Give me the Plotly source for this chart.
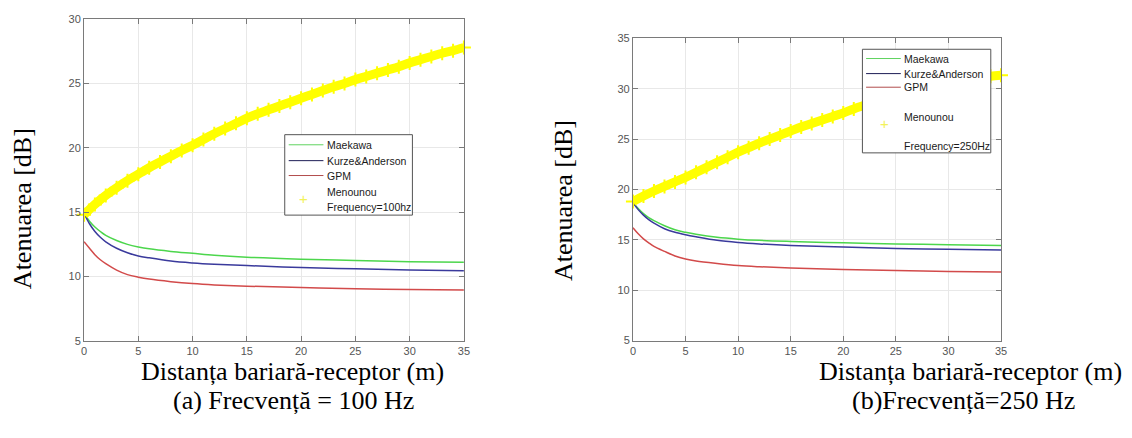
import plotly.graph_objects as go

# ---------------- data ----------------
x_model = [0, 0.5, 1, 1.5, 2, 3, 4, 5, 6, 8, 10, 12, 15, 20, 25, 30, 35]

maekawa_100 = [14.9, 14.3, 13.85, 13.5, 13.2, 12.8, 12.5, 12.3, 12.15, 11.95, 11.8, 11.65, 11.5, 11.35, 11.25, 11.15, 11.1]
kurze_100 = [14.9, 14.1, 13.5, 13.05, 12.7, 12.2, 11.85, 11.6, 11.45, 11.2, 11.05, 10.95, 10.85, 10.7, 10.6, 10.5, 10.45]
gpm_100 = [12.7, 12.2, 11.7, 11.3, 11.0, 10.5, 10.15, 9.95, 9.8, 9.6, 9.45, 9.35, 9.25, 9.15, 9.05, 9.0, 8.95]

maekawa_250 = [18.7, 18.1, 17.6, 17.2, 16.9, 16.4, 16.0, 15.75, 15.55, 15.25, 15.07, 14.95, 14.84, 14.7, 14.6, 14.52, 14.45]
kurze_250 = [18.7, 18.0, 17.45, 17.0, 16.65, 16.1, 15.75, 15.5, 15.3, 14.95, 14.74, 14.6, 14.45, 14.3, 14.15, 14.07, 14.0]
gpm_250 = [16.2, 15.6, 15.1, 14.7, 14.35, 13.85, 13.4, 13.1, 12.9, 12.65, 12.45, 12.33, 12.2, 12.05, 11.95, 11.87, 11.8]

x_men = list(range(0, 36))
menounou_100 = [14.8, 15.6, 16.3, 16.9, 17.45, 17.95, 18.45, 18.9, 19.35, 19.8,
                20.2, 20.65, 21.1, 21.5, 21.9, 22.3, 22.65, 22.95, 23.25, 23.55,
                23.85, 24.15, 24.45, 24.75, 25.0, 25.3, 25.55, 25.8, 26.05, 26.3,
                26.6, 26.85, 27.1, 27.35, 27.55, 27.8]
menounou_250 = [18.8, 19.35, 19.85, 20.3, 20.75, 21.2, 21.7, 22.2, 22.7, 23.2,
                23.7, 24.15, 24.6, 25.0, 25.4, 25.8, 26.2, 26.55, 26.9, 27.25,
                27.6, 28.0, 28.35, 28.7, 29.0, 29.3, 29.6, 29.85, 30.1, 30.35,
                30.55, 30.75, 30.95, 31.1, 31.25, 31.35]

x_ticks = [0, 5, 10, 15, 20, 25, 30, 35]
y_ticks_100 = [5, 10, 15, 20, 25, 30]
y_ticks_250 = [5, 10, 15, 20, 25, 30, 35]

names = ["Maekawa", "Kurze&Anderson", "GPM"]
men_lines_100 = ["Menounou", "Frequency=100hz"]
men_lines_250 = ["Menounou", "Frequency=250Hz"]

# ---------------- style ----------------
W, H = 1132, 438
GREEN = "#4cd64c"
BLUE = "#3a3a9c"
RED = "#d24a4a"
LEG_COLORS = ["#5fd35f", "#1c1c55", "#b24d4d"]
YELLOW = "#ffff00"
AXC = "#7a7a7a"
GRID = "#e8e8e8"
SANS = "Liberation Sans, Arial, sans-serif"
TICKF = dict(family=SANS, size=11, color="#555555")
LEGF = dict(family=SANS, size=10.5, color="#1a1a1a")
SERIF = "Liberation Serif, Times New Roman, serif"

fig = go.Figure()


def add_panel(xa, ya, curves, men):
    for name, vals, col in zip(names, curves, [GREEN, BLUE, RED]):
        fig.add_trace(go.Scatter(x=x_model, y=vals, mode="lines", name=name,
                                 line=dict(color=col, width=1.5, shape="spline"),
                                 xaxis=xa, yaxis=ya, showlegend=False))
    fig.add_trace(go.Scatter(x=x_men, y=men, mode="lines", showlegend=False,
                             line=dict(color=YELLOW, width=9, shape="spline"),
                             xaxis=xa, yaxis=ya, hoverinfo="skip"))
    fig.add_trace(go.Scatter(x=x_men, y=men, mode="markers", name="Menounou",
                             marker=dict(symbol="cross-thin", size=10, color=YELLOW,
                                         line=dict(color=YELLOW, width=2)),
                             cliponaxis=False, xaxis=xa, yaxis=ya, showlegend=False))


add_panel("x", "y", [maekawa_100, kurze_100, gpm_100], menounou_100)
add_panel("x2", "y2", [maekawa_250, kurze_250, gpm_250], menounou_250)

axis_common = dict(showline=True, linecolor=AXC, linewidth=1, mirror="ticks",
                   ticks="inside", ticklen=5, tickcolor=AXC, showgrid=True,
                   gridcolor=GRID, gridwidth=1, zeroline=False, tickfont=TICKF)

L_x0, L_x1, L_top, L_bot = 81.7, 464.6, 13.5, 344.3
R_x0, R_x1, R_top, R_bot = 635.0, 1006.0, 33.3, 344.0

fig.update_layout(
    width=W, height=H,
    margin=dict(l=0, r=0, t=0, b=0),
    paper_bgcolor="white", plot_bgcolor="white",
    showlegend=False,
    xaxis=dict(domain=[L_x0 / W, L_x1 / W], range=[0, 35], tickvals=x_ticks,
               anchor="y", **axis_common),
    yaxis=dict(domain=[1 - L_bot / H, 1 - L_top / H], range=[5, 30], tickvals=y_ticks_100,
               anchor="x", **axis_common),
    xaxis2=dict(domain=[R_x0 / W, R_x1 / W], range=[0, 35], tickvals=x_ticks,
                anchor="y2", **axis_common),
    yaxis2=dict(domain=[1 - R_bot / H, 1 - R_top / H], range=[5, 35], tickvals=y_ticks_250,
                anchor="x2", **axis_common),
)


def px(xp):
    return xp / W


def py(yp):
    return 1 - yp / H


# ---------------- legend boxes (drawn in page pixels) ----------------
def draw_legend(box, line_x, text_x, line_ys, men_ys, plus_xy):
    x0, y0, x1, y1 = box
    fig.add_shape(type="rect", xref="paper", yref="paper",
                  x0=px(x0), x1=px(x1), y0=py(y0), y1=py(y1),
                  line=dict(color="#555555", width=1), fillcolor="white", layer="above")
    for name, col, yy in zip(names, LEG_COLORS, line_ys):
        fig.add_shape(type="line", xref="paper", yref="paper",
                      x0=px(line_x[0]), x1=px(line_x[1]), y0=py(yy), y1=py(yy),
                      line=dict(color=col, width=1), layer="above")
        fig.add_annotation(text=name, x=px(text_x), y=py(yy), xref="paper", yref="paper",
                           xanchor="left", yanchor="middle", showarrow=False, font=LEGF)
    for txt, yy in men_ys:
        fig.add_annotation(text=txt, x=px(text_x), y=py(yy), xref="paper", yref="paper",
                           xanchor="left", yanchor="middle", showarrow=False, font=LEGF)
    fig.add_annotation(text="+", x=px(plus_xy[0]), y=py(plus_xy[1]), xref="paper", yref="paper",
                       xanchor="center", yanchor="middle", showarrow=False,
                       font=dict(family=SANS, size=15, color="#f2f25a"))


draw_legend((284, 132.3, 412.7, 215), (288, 323), 324.3, (142.7, 159, 174.3),
            list(zip(men_lines_100, (191.7, 206.7))), (303.3, 198))
draw_legend((866.3, 44.5, 995.7, 151), (870, 905), 906.7, (54, 69.5, 83.5),
            list(zip(men_lines_250, (114, 143.5))), (888.3, 121))

# ---------------- axis titles ----------------
cap_font = dict(family=SERIF, size=26, color="black")
ylab_font = dict(family=SERIF, size=26, color="black")
titles = [
    dict(text="Atenuarea [dB]", x=px(19), y=py(208), textangle=-90, font=ylab_font),
    dict(text="Atenuarea [dB]", x=px(565), y=py(200), textangle=-90, font=ylab_font),
    dict(text="Distanța bariară-receptor (m)", x=px(292), y=py(376), font=cap_font),
    dict(text="(a) Frecvență = 100 Hz", x=px(293), y=py(406), font=cap_font),
    dict(text="Distanța bariară-receptor (m)", x=px(975), y=py(376), font=cap_font),
    dict(text="(b)Frecvență=250 Hz", x=px(968), y=py(406), font=cap_font),
]
for t in titles:
    fig.add_annotation(xref="paper", yref="paper", showarrow=False,
                       xanchor="center", yanchor="middle", **t)

fig.write_html("out.html")
